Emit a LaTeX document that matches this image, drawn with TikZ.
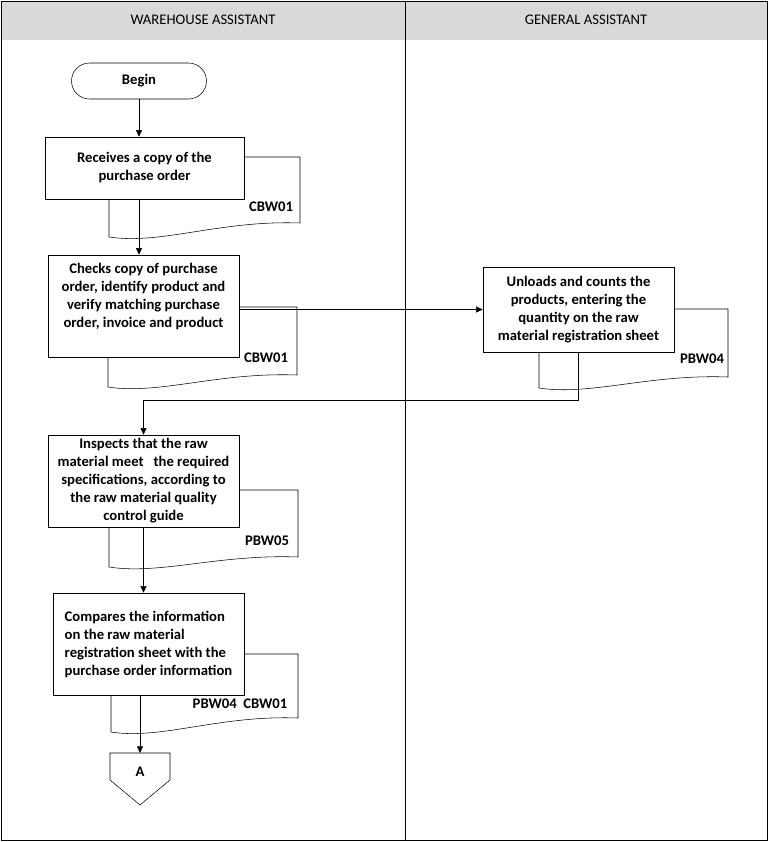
\documentclass[tikz,border=0pt]{standalone}
\usepackage{fontspec}
\setmainfont{Carlito}
\usetikzlibrary{arrows.meta}
\definecolor{headgray}{RGB}{217,217,217}
\begin{document}
\begin{tikzpicture}[
            x=0.75pt, y=-0.75pt,
            >={Triangle[length=5pt,width=4.5pt]},
            task/.style={rectangle, draw, fill=white, align=center, inner sep=2pt,
                font=\fontsize{11}{13.5}\selectfont\bfseries},
            docpage/.style={draw, fill=white},
            doccode/.style={font=\fontsize{11}{13.5}\selectfont\bfseries, inner sep=0pt},
            lane/.style={font=\fontsize{11}{13.5}\selectfont}
            ]
            \useasboundingbox (0,0) rectangle (768,842);

            % swimlanes
            \fill[headgray] (1,1) rectangle (767,40);
            \draw (1,1) rectangle (767,840);
            \draw (405,1) -- (405,840);
            \node[lane] (lane1) at (203,20) {WAREHOUSE ASSISTANT};
            \node[lane] (lane2) at (586,20) {GENERAL ASSISTANT};

            % documents behind the steps
            \draw[docpage] (109,157) -- (300,157) -- (300,223) .. controls (220,220) and (161,245) .. (109,237) -- cycle;
            \draw[docpage] (108,307) -- (297,307) -- (297,375) .. controls (218,372) and (159,395) .. (108,387) -- cycle;
            \draw[docpage] (539,309) -- (728,309) -- (728,377) .. controls (649,374) and (590,396) .. (539,388) -- cycle;
            \draw[docpage] (109,490) -- (298,490) -- (298,557) .. controls (219,554) and (160,575) .. (109,567) -- cycle;
            \draw[docpage] (111,654) -- (298,654) -- (298,718) .. controls (219,715) and (161,740) .. (111,732) -- cycle;
            \node[doccode] (d1) at (271,207) {CBW01};
            \node[doccode] (d2) at (266,358) {CBW01};
            \node[doccode] (d3) at (702,359) {PBW04};
            \node[doccode] (d4) at (267,541) {PBW05};
            \node[doccode] (d5) at (240,704) {PBW04\ \ CBW01};

            % steps
            \node[task, rounded corners=13.5pt, minimum width=101.25pt, minimum height=27pt] (begin) at (139,81) {Begin};
            \node[task, minimum width=149.25pt, minimum height=46.5pt] (b1) at (144.5,168) {Receives a copy of the\\purchase order};
            \node[task, minimum width=143.25pt, minimum height=76.5pt, text depth=16pt] (b2) at (143.5,306) {Checks copy of purchase\\order, identify product and\\verify matching purchase\\order, invoice and product};
            \node[task, minimum width=143.25pt, minimum height=63.75pt] (b3) at (578.5,309.5) {Unloads and counts the\\products, entering the\\quantity on the raw\\material registration sheet};
            \node[task, minimum width=143.25pt, minimum height=69pt] (b4) at (143.5,481) {Inspects that the raw\\material meet~~ the required\\specifications, according to\\the raw material quality\\control guide};
            \node[task, minimum width=143.25pt, minimum height=76.5pt, align=left] (b5) at (148.5,644) {Compares the information\\on the raw material\\registration sheet with the\\purchase order information};

            % off-page connector
            \draw (110,753) -- (170,753) -- (170,780) -- (140,805) -- (110,780) -- cycle;
            \node[task, draw=none, fill=none] (conA) at (140,772) {A};
            \coordinate (conAtop) at (140,753);
            \coordinate (turn4) at (578.5,400);

            % flow
            \draw[->] (begin.south) -- (begin.south |- b1.north);
            \draw[->] (b1.south -| begin.south) -- (b2.north -| begin.south);
            \draw[->] (b3.west -| b2.east) -- (b3.west);
            \draw[->] (b3.south) -- (turn4) -| (b4.north);
            \draw[->] (b4.south) -- (b4.south |- b5.north);
            \draw[->] (conAtop |- b5.south) -- (conAtop);

            \end{tikzpicture}
\end{document}
